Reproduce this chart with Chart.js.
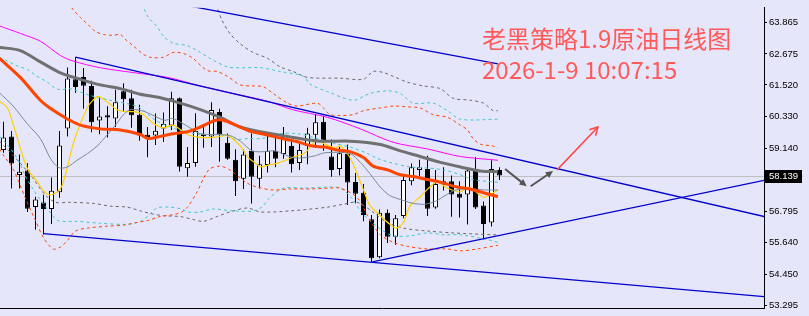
<!DOCTYPE html>
<html>
<head>
<meta charset="utf-8">
<script src="https://cdn.jsdelivr.net/npm/chart.js@4.4.1/dist/chart.umd.min.js"></script>
<style>
html, body { margin: 0; padding: 0; background: #e6e6fa; }
canvas { display: block; }
</style>
</head>
<body>
<canvas id="oilChart" width="809" height="316"></canvas>
<script>
// daily candles, oldest first
const opens  = [59.09,59.60,58.16,58.33,56.97,57.13,56.89,57.52,59.89,61.73,61.81,61.48,60.19,60.39,60.27,61.28,61.02,60.41,59.66,59.63,59.89,60.01,61.02,58.41,58.61,59.61,59.60,60.51,59.36,58.73,58.02,59.06,58.02,58.53,59.06,58.94,59.24,58.61,59.24,59.66,60.15,58.85,58.38,58.94,57.90,57.50,56.51,55.09,56.75,55.86,56.63,57.93,58.35,58.38,56.95,57.82,57.93,57.46,57.43,58.31,57.02,56.39,58.35];
const highs  = [60.15,59.80,58.92,58.61,57.35,57.42,58.07,59.80,62.17,62.56,62.15,61.67,61.08,60.72,61.34,61.58,61.34,60.78,59.95,60.45,60.49,61.26,61.05,59.20,60.46,59.99,60.87,60.63,59.71,59.12,59.12,59.71,58.88,59.66,59.60,59.95,59.51,59.39,59.92,60.42,60.37,59.48,59.20,59.30,58.23,57.82,56.67,56.87,56.87,56.67,58.11,58.59,58.73,58.88,58.35,58.45,58.14,57.93,58.45,58.82,57.17,58.71,58.45];
const lows   = [58.99,57.66,57.66,56.78,56.12,55.94,56.33,57.31,59.60,61.22,60.63,59.75,59.68,59.56,59.95,60.51,59.92,59.44,58.82,59.28,59.39,59.84,58.29,58.09,58.47,59.18,59.20,58.65,58.73,57.38,57.64,57.10,57.66,58.25,58.45,58.77,58.25,58.35,58.56,59.18,59.06,58.09,58.14,57.04,57.10,56.43,54.89,55.05,55.62,55.56,56.55,57.78,58.11,56.63,56.90,57.58,56.60,56.57,56.31,56.89,55.76,56.24,57.97];
const closes = [59.56,58.59,58.28,56.90,57.25,56.89,57.57,59.26,61.76,61.44,61.49,60.13,60.34,60.30,60.87,60.98,60.39,59.63,59.51,59.81,60.06,61.02,58.47,58.61,59.80,59.68,60.58,59.66,58.77,57.93,58.92,58.09,58.56,59.06,58.77,59.54,58.56,59.09,59.71,60.13,59.42,58.35,58.97,57.88,57.46,56.67,55.05,56.75,55.86,56.55,57.97,58.45,58.45,56.90,57.82,57.93,57.43,57.31,58.33,56.95,56.33,58.38,58.139];

const lastPrice = 58.139;
const priceTicks = [53.295, 54.450, 55.640, 56.795, 57.985, 59.140, 60.330, 61.520, 62.675, 63.865];

// indicator readings as [bar index, price]
const maMagenta = [[-0.5,63.72],[2.1,63.44],[4.6,63.15],[7.1,62.62],[8.7,62.41],[12.1,62.16],[16.2,61.98],[20.5,61.80],[24.6,61.48],[28.7,61.20],[33.0,60.91],[36.2,60.59],[40.5,60.31],[44.6,59.88],[48.7,59.38],[53.0,59.13],[57.1,58.85],[61.8,58.71]];
const maGrayThick = [[-0.5,62.92],[2.1,62.80],[4.6,62.38],[7.1,61.97],[9.6,61.73],[12.1,61.52],[14.6,61.38],[17.1,61.17],[19.6,61.04],[22.1,60.84],[24.6,60.60],[27.1,60.31],[29.6,59.95],[32.1,59.77],[36.2,59.56],[39.6,59.42],[43.3,59.42],[47.1,59.30],[49.6,59.06],[52.1,58.85],[54.6,58.63],[57.1,58.46],[59.6,58.31],[61.8,58.28]];
const maOrange = [[-0.5,62.51],[2.1,61.80],[4.6,60.95],[5.8,60.66],[7.1,60.41],[8.3,60.20],[9.6,60.02],[12.1,59.88],[14.6,59.84],[17.1,59.67],[18.1,59.52],[19.6,59.60],[21.2,59.70],[23.0,59.77],[24.6,59.95],[26.5,60.20],[27.5,60.20],[29.0,60.02],[31.1,59.77],[32.7,59.67],[34.8,59.52],[36.5,59.42],[38.6,59.24],[40.2,59.20],[41.5,59.10],[43.3,59.03],[45.0,58.81],[46.2,58.49],[48.0,58.35],[49.6,58.17],[51.2,58.10],[53.0,57.99],[54.6,57.89],[56.7,57.71],[58.3,57.64],[60.0,57.50],[61.8,57.35]];
const maYellow = [[-0.5,60.91],[0.5,60.66],[1.2,60.06],[2.1,59.17],[2.7,58.60],[3.3,58.24],[4.2,57.92],[5.0,57.57],[5.8,57.42],[6.7,57.53],[7.3,57.75],[8.0,58.46],[8.7,59.31],[9.6,60.06],[10.6,60.73],[11.2,60.95],[11.8,61.09],[13.0,60.88],[14.2,60.59],[15.3,60.52],[16.3,60.52],[17.5,60.41],[18.7,60.09],[20.0,59.92],[21.2,60.02],[23.0,59.67],[24.6,59.56],[26.2,59.56],[28.0,59.63],[29.0,59.42],[29.8,59.17],[30.6,58.81],[31.5,58.60],[32.1,58.46],[33.1,58.53],[34.3,58.60],[36.1,58.81],[37.7,58.99],[38.7,59.35],[39.3,59.42],[40.2,59.31],[41.5,59.17],[42.1,59.24],[43.3,58.81],[44.2,58.21],[45.0,57.60],[45.8,57.03],[47.1,56.64],[48.3,56.32],[49.1,56.18],[50.0,56.39],[50.8,57.00],[52.1,57.35],[53.3,57.71],[54.2,57.89],[55.5,57.67],[57.1,57.53],[58.1,57.71],[59.2,57.50],[60.0,57.32],[60.8,57.43],[61.8,57.60]];
const maSlate = [[-0.5,61.23],[1.2,60.73],[3.0,60.06],[4.6,59.52],[5.8,58.81],[6.5,58.53],[7.1,58.42],[8.0,58.46],[9.2,58.71],[10.5,58.96],[11.7,59.24],[13.0,59.67],[14.0,60.02],[15.0,60.41],[15.8,60.59],[16.7,60.59],[17.7,60.52],[19.0,60.34],[20.2,60.20],[21.1,60.27],[22.1,60.13],[23.3,59.92],[24.6,59.70],[26.2,59.67],[28.3,59.63],[29.6,59.42],[31.1,59.06],[32.7,59.03],[34.0,59.06],[36.1,58.81],[37.7,58.81],[39.0,58.88],[40.2,58.99],[43.3,58.96],[44.6,58.63],[45.8,58.21],[47.1,57.71],[48.3,57.39],[50.0,57.21],[51.2,57.10],[52.7,57.07],[54.0,57.18],[55.2,57.39],[56.5,57.60],[58.3,57.64],[60.2,57.60],[61.8,57.60]];

// band lines (dashed)
const bandOrangeUp = [[7.1,64.93],[8.7,64.33],[9.6,64.04],[10.6,63.76],[11.5,63.51],[12.5,63.40],[13.7,63.37],[14.6,63.40],[15.2,63.23],[16.2,62.98],[17.5,62.66],[18.3,62.55],[20.0,62.55],[21.2,62.73],[22.5,62.69],[23.7,62.51],[24.6,62.26],[25.5,62.05],[26.7,62.02],[28.0,61.84],[29.6,61.52],[31.2,61.48],[32.5,61.45],[33.7,61.20],[35.5,60.84],[36.7,60.73],[39.2,60.84],[40.0,60.66],[40.8,60.41],[42.1,60.38],[43.7,60.41],[45.0,60.56],[47.1,60.66],[48.7,60.73],[50.5,60.70],[52.1,60.66],[53.7,60.41],[55.5,60.31],[57.1,60.02],[58.0,59.84],[58.7,59.52],[59.6,59.31],[61.2,59.24],[61.8,59.17]];
const bandCyanUp = [[16.5,64.93],[17.5,64.40],[18.1,64.04],[19.2,63.69],[20.0,63.33],[21.2,63.08],[23.0,62.98],[24.6,62.73],[25.8,62.51],[28.0,62.19],[29.6,62.16],[32.1,62.16],[34.6,62.02],[37.5,61.84],[38.3,61.55],[40.5,61.27],[43.7,60.95],[45.8,61.20],[48.0,61.30],[49.6,61.20],[51.2,60.84],[53.7,60.84],[55.5,60.56],[57.1,60.24],[61.8,60.24]];
const bandGrayUp = [[25.8,64.93],[26.7,64.40],[27.3,63.94],[28.3,63.44],[29.6,63.05],[31.2,62.73],[33.0,62.51],[34.6,62.19],[36.2,62.02],[38.0,61.80],[42.1,61.77],[45.0,61.73],[46.2,62.02],[47.5,61.98],[48.7,61.84],[50.5,61.62],[52.5,61.48],[54.6,61.38],[56.2,61.02],[58.3,60.95],[60.0,60.84],[61.2,60.56],[61.8,60.56]];
const bandCyanMid = [[-0.5,62.55],[0.5,62.41],[1.7,62.23],[3.0,62.09],[4.2,61.84],[5.5,61.62],[6.2,61.45],[7.1,61.34],[8.3,61.38],[10.8,61.13],[13.3,60.95],[15.6,60.81],[17.1,60.66],[19.0,60.20],[21.5,59.88],[24.6,59.67],[27.1,59.67],[29.0,59.49],[30.6,59.52],[32.3,59.52],[34.6,59.70],[36.7,59.70],[39.2,59.52],[41.2,59.35],[43.7,59.17],[45.5,58.96],[46.7,58.78],[48.3,58.63],[50.8,58.46],[53.0,58.42],[55.0,58.35],[57.1,58.17],[58.7,57.99],[60.5,57.92],[61.8,57.89]];
const bandOrangeLow = [[-0.5,59.13],[0.1,58.85],[1.2,58.39],[2.7,57.32],[4.0,56.46],[5.0,55.82],[6.2,55.40],[7.1,55.47],[8.0,55.72],[9.0,56.07],[10.5,56.18],[13.0,56.25],[15.0,56.29],[16.7,56.39],[18.0,56.46],[19.6,56.61],[21.2,56.68],[22.3,56.78],[23.1,57.00],[24.2,57.53],[25.0,58.03],[25.8,58.39],[27.1,58.49],[28.3,58.35],[29.2,58.14],[30.5,57.85],[31.7,57.71],[33.7,57.60],[35.8,57.64],[38.3,57.64],[40.8,57.67],[42.1,57.67],[44.2,57.32],[45.5,56.64],[46.2,56.29],[47.1,55.93],[48.7,55.65],[50.5,55.50],[53.0,55.40],[55.5,55.40],[57.1,55.33],[59.2,55.40],[61.8,55.54]];
const bandCyanLow = [[-0.5,59.60],[0.8,59.17],[1.8,58.74],[2.7,58.14],[3.6,57.67],[5.0,57.07],[5.8,56.78],[6.8,56.46],[9.2,56.43],[12.1,56.36],[15.5,56.32],[17.1,56.43],[18.0,56.61],[19.2,56.93],[20.8,56.96],[22.3,56.89],[23.0,56.78],[24.6,56.78],[26.2,56.89],[28.7,56.82],[31.2,56.82],[32.3,56.96],[33.3,57.32],[35.0,57.67],[37.5,57.67],[40.5,57.71],[42.1,57.67],[43.6,57.28],[44.6,56.82],[45.8,56.46],[47.3,56.11],[48.7,55.89],[50.8,55.89],[53.0,56.00],[55.0,55.93],[57.1,55.93],[60.5,55.75],[61.8,55.65]];
const bandGrayLow = [[-0.5,59.42],[2.1,58.60],[3.6,58.07],[5.2,57.42],[6.5,57.14],[8.3,57.14],[11.2,57.10],[13.3,57.00],[15.5,56.96],[17.1,56.82],[18.6,56.71],[20.0,56.64],[22.1,56.61],[23.7,56.50],[25.0,56.43],[26.7,56.61],[28.3,56.78],[30.5,56.93],[32.1,56.78],[35.8,56.82],[40.5,56.96],[42.5,57.07],[44.2,57.14],[45.8,56.86],[47.7,56.43],[50.0,56.18],[53.0,56.07],[56.2,56.00],[61.2,55.93],[61.8,55.93]];

// hand drawn trend lines and arrows, [bar index, price]
const trendTop = [[18.3,64.74],[61.8,62.30]];
const trendUpper = [[9.0,62.56],[95.1,56.61]];
const trendLower = [[5.0,55.97],[95.1,53.62]];
const trendRising = [[46.1,54.92],[95.1,57.96]];
const arrowsGray = [[[62.7,58.38],[65.4,57.74]], [[65.9,57.74],[68.7,58.31]]];
const arrowRed = [[69.2,58.35],[74.3,59.95]];

const titleLines = ['老黑策略1.9原油日线图', '2026-1-9 10:07:15'];

const axisFont = { family: 'Liberation Sans', size: 9.5 };

function lineSet(points, color, width, dash, smooth) {
    return {
        type: 'line',
        data: points.map(([x, y]) => ({ x, y })),
        borderColor: color,
        borderWidth: width,
        borderDash: dash || [],
        pointRadius: 0,
        tension: smooth ? 0.3 : 0,
        fill: false,
        order: 0
    };
}

const wickData = highs.map((h, i) => ({ x: i, y: [lows[i], h] }));
const bodyData = opens.map((o, i) => ({ x: i, y: [o, closes[i]] }));
const bodyFill = opens.map((o, i) => closes[i] >= o ? '#ffffff' : '#000000');

const dots = [3, 3];

const datasets = [
    lineSet(trendTop, '#0000cd', 1.3),
    lineSet(trendUpper, '#0000cd', 1.3),
    lineSet(trendLower, '#0000cd', 1.3),
    lineSet(trendRising, '#0000cd', 1.3),
    lineSet(maOrange, '#ff4500', 3, null, true),
    lineSet(maGrayThick, '#707070', 3, null, true),
    lineSet(maMagenta, '#ff00ff', 1, null, true),
    lineSet(maSlate, '#7a8a9a', 1, null, true),
    lineSet(maYellow, '#ffd000', 1.2, null, true),
    lineSet(bandOrangeUp, '#ff4500', 1, dots, true),
    lineSet(bandCyanUp, '#40c8c8', 1, dots, true),
    lineSet(bandGrayUp, '#6a6a6a', 1, dots, true),
    lineSet(bandCyanMid, '#40c8c8', 1, dots, true),
    lineSet(bandOrangeLow, '#ff4500', 1, dots, true),
    lineSet(bandCyanLow, '#40c8c8', 1, dots, true),
    lineSet(bandGrayLow, '#6a6a6a', 1, dots, true),
    {
        data: bodyData,
        backgroundColor: bodyFill,
        borderColor: '#000000',
        borderWidth: 1,
        borderSkipped: false,
        barThickness: 5,
        inflateAmount: 0,
        grouped: false,
        order: 1
    },
    {
        data: wickData,
        backgroundColor: '#000000',
        borderWidth: 0,
        barThickness: 1,
        inflateAmount: 0,
        grouped: false,
        order: 2
    }
];

function drawArrow(ctx, x1, y1, x2, y2, color, width, filled) {
    const ang = Math.atan2(y2 - y1, x2 - x1);
    const len = filled ? 8 : 9;
    const spread = filled ? 0.45 : 0.5;
    ctx.save();
    ctx.strokeStyle = color;
    ctx.fillStyle = color;
    ctx.lineWidth = width;
    ctx.beginPath();
    ctx.moveTo(x1, y1);
    ctx.lineTo(filled ? x2 - Math.cos(ang) * 5 : x2, filled ? y2 - Math.sin(ang) * 5 : y2);
    ctx.stroke();
    ctx.beginPath();
    ctx.moveTo(x2 - Math.cos(ang - spread) * len, y2 - Math.sin(ang - spread) * len);
    ctx.lineTo(x2, y2);
    ctx.lineTo(x2 - Math.cos(ang + spread) * len, y2 - Math.sin(ang + spread) * len);
    if (filled) { ctx.closePath(); ctx.fill(); } else { ctx.stroke(); }
    ctx.restore();
}

const decorations = {
    id: 'decorations',
    beforeDatasetsDraw(chart) {
        const { ctx, chartArea, scales } = chart;
        const y = Math.round(scales.y.getPixelForValue(lastPrice)) + 0.5;
        ctx.save();
        ctx.strokeStyle = '#c0c0c0';
        ctx.lineWidth = 1;
        ctx.beginPath();
        ctx.moveTo(chartArea.left, y);
        ctx.lineTo(chartArea.right, y);
        ctx.stroke();
        ctx.restore();
    },
    afterDraw(chart) {
        const { ctx, chartArea, scales } = chart;
        const xs = scales.x, ys = scales.y;
        const px = p => [xs.getPixelForValue(p[0]), ys.getPixelForValue(p[1])];

        ctx.save();
        ctx.beginPath();
        ctx.rect(chartArea.left, chartArea.top, chartArea.right - chartArea.left, chartArea.bottom - chartArea.top);
        ctx.clip();
        arrowsGray.forEach(([a, b]) => {
            const [x1, y1] = px(a), [x2, y2] = px(b);
            drawArrow(ctx, x1, y1, x2, y2, '#555555', 2, true);
        });
        const [rx1, ry1] = px(arrowRed[0]), [rx2, ry2] = px(arrowRed[1]);
        drawArrow(ctx, rx1, ry1, rx2, ry2, '#ff4545', 1.5, false);

        ctx.fillStyle = '#ff5a5a';
        ctx.font = '24px "Noto Sans CJK SC"';
        ctx.textBaseline = 'alphabetic';
        ctx.fillText(titleLines[0], 482, 48);
        ctx.fillText(titleLines[1], 482, 79);
        ctx.restore();

        // bottom frame line
        ctx.save();
        ctx.strokeStyle = '#000';
        ctx.lineWidth = 1;
        ctx.beginPath();
        ctx.moveTo(chartArea.left, Math.round(chartArea.bottom) + 0.5);
        ctx.lineTo(chartArea.right + 1, Math.round(chartArea.bottom) + 0.5);
        ctx.stroke();

        // last price tag
        const ty = Math.round(ys.getPixelForValue(lastPrice));
        ctx.fillStyle = '#000';
        ctx.fillRect(chartArea.right + 1, ty - 6, 37, 13);
        ctx.fillStyle = '#fff';
        ctx.font = axisFont.size + 'px "' + axisFont.family + '"';
        ctx.textBaseline = 'middle';
        ctx.fillText(lastPrice.toFixed(3), chartArea.right + 5, ty + 0.5);
        ctx.restore();
    }
};

const oilChart = new Chart(document.getElementById('oilChart'), {
    type: 'bar',
    data: { datasets },
    options: {
        responsive: false,
        animation: false,
        layout: { padding: { top: 0, bottom: 1, left: 0, right: 0 } },
        plugins: {
            legend: { display: false },
            tooltip: { enabled: false }
        },
        scales: {
            x: {
                type: 'linear',
                display: false,
                offset: false,
                min: -0.4375,
                max: 95.0625
            },
            y: {
                position: 'right',
                min: 53.188,
                max: 64.399,
                afterFit(scale) { scale.width = 45; },
                afterBuildTicks(scale) { scale.ticks = priceTicks.map(v => ({ value: v })); },
                ticks: {
                    font: axisFont,
                    color: '#000',
                    padding: 2,
                    autoSkip: false,
                    callback: v => v.toFixed(3)
                },
                grid: { drawOnChartArea: false, tickLength: 3, color: '#000' },
                border: { color: '#000', width: 1 }
            }
        }
    },
    plugins: [decorations]
});
</script>
</body>
</html>
